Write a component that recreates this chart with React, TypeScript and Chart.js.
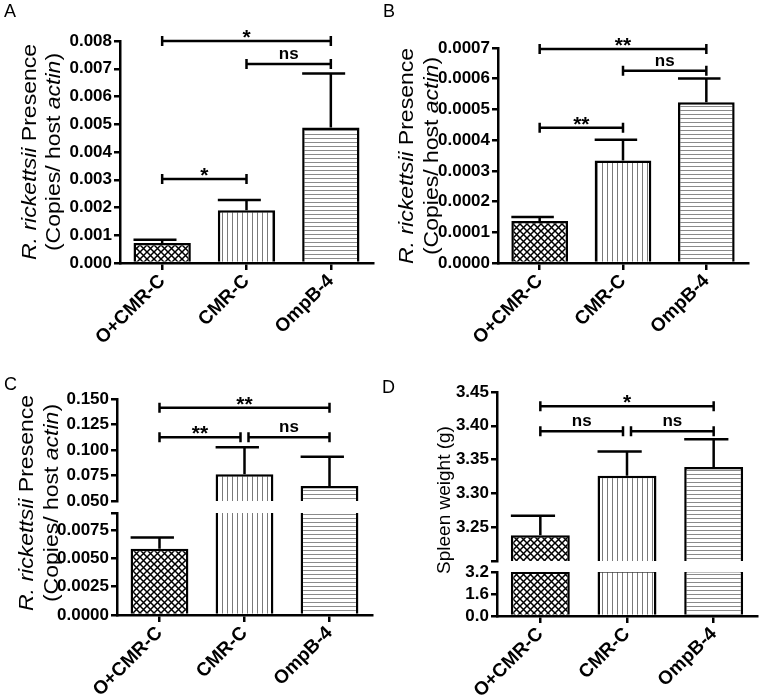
import React, { useEffect, useRef } from 'react';
import { Chart, registerables } from 'chart.js';

Chart.register(...registerables);
Chart.defaults.font.family = '"Liberation Sans", Arial, Helvetica, sans-serif';
Chart.defaults.color = '#000';

// ---------- data ----------
const categories = ['O+CMR-C', 'CMR-C', 'OmpB-4'];

// Panel A
const valuesA = [0.00072, 0.0019, 0.00488];
const errorsA = [0.00012, 0.00037, 0.00195];
const ticksA = [0, 0.001, 0.002, 0.003, 0.004, 0.005, 0.006, 0.007, 0.008];
const sigFromA = [0, 1, 0];
const sigToA = [2, 2, 1];
const sigLevelA = [0.008, 0.00717, 0.00303];
const sigLabelA = ['*', 'ns', '*'];

// Panel B
const valuesB = [0.000137, 0.000334, 0.000523];
const errorsB = [0.000013, 0.000067, 0.000078];
const ticksB = [0, 0.0001, 0.0002, 0.0003, 0.0004, 0.0005, 0.0006, 0.0007];
const sigFromB = [0, 1, 0];
const sigToB = [2, 2, 1];
const sigLevelB = [0.000697, 0.000626, 0.00044];
const sigLabelB = ['**', 'ns', '**'];

// Panel C (broken axis)
const valuesC = [0.00585, 0.0763, 0.0648];
const errorsC = [0.00098, 0.0264, 0.0286];
const ticksCLow = [0, 0.0025, 0.005, 0.0075];
const rangeCLow = [0, 0.009];
const ticksCHigh = [0.05, 0.075, 0.1, 0.125, 0.15];
const rangeCHigh = [0.05, 0.15];
const sigFromC = [0, 0, 1];
const sigToC = [2, 1, 2];
const sigLevelC = [0.1414, 0.1125, 0.1125];
const sigLabelC = ['**', '**', 'ns'];

// Panel D (broken axis)
const valuesD = [3.238, 3.326, 3.339];
const errorsD = [0.029, 0.036, 0.041];
const ticksDLow = [0, 1.6, 3.2];
const rangeDLow = [0, 3.2];
const ticksDHigh = [3.25, 3.3, 3.35, 3.4, 3.45];
const rangeDHigh = [3.2, 3.45];
const sigFromD = [0, 0, 1];
const sigToD = [2, 1, 2];
const sigLevelD = [3.429, 3.392, 3.392];
const sigLabelD = ['*', 'ns', 'ns'];

// ---------- helpers ----------
const FONT = '"Liberation Sans", Arial, Helvetica, sans-serif';
const BAR_PCT = 0.68;

type Seg = { text: string; italic: boolean };
type Sec = {
  values: number[];
  errors: number[];
  min: number;
  max: number;
  ticks: number[];
  decimals: number;
  padTop: number;
  padRight: number;
  padBottom: number;
  yWidth: number;
  xHeight: number | null;
  hideBelowMin?: boolean;
  sig?: { from: number[]; to: number[]; level: number[]; label: string[]; gap: number };
  title?: { lines: Seg[][]; xs: number[]; cy: number; size: number; stretch: number };
  letter?: { text: string; x: number; y: number };
};

function makePattern(ctx: CanvasRenderingContext2D, kind: string) {
  const c = document.createElement('canvas');
  const s = kind === 'cross' ? 7 : kind === 'vert' ? 5 : 4;
  c.width = s;
  c.height = s;
  const g = c.getContext('2d')!;
  g.fillStyle = '#fff';
  g.fillRect(0, 0, s, s);
  if (kind === 'cross') {
    g.strokeStyle = '#000';
    g.lineWidth = 1.5;
    g.beginPath();
    g.moveTo(-1, -1);
    g.lineTo(s + 1, s + 1);
    g.moveTo(s + 1, -1);
    g.lineTo(-1, s + 1);
    g.stroke();
  } else if (kind === 'vert') {
    g.fillStyle = '#7a7a7a';
    g.fillRect(2, 0, 1, s);
  } else {
    g.fillStyle = '#8a8a8a';
    g.fillRect(0, 2, s, 1);
  }
  return ctx.createPattern(c, 'repeat')!;
}

function drawRich(ctx: CanvasRenderingContext2D, segs: Seg[], x: number, y: number, size: number, stretch: number) {
  ctx.save();
  ctx.translate(x, y);
  ctx.rotate(-Math.PI / 2);
  ctx.scale(stretch, 1);
  ctx.fillStyle = '#000';
  ctx.textBaseline = 'middle';
  ctx.textAlign = 'left';
  const fonts = segs.map((s) => `${s.italic ? 'italic ' : ''}${size}px ${FONT}`);
  const widths = segs.map((s, i) => {
    ctx.font = fonts[i];
    return ctx.measureText(s.text).width;
  });
  let cx = -widths.reduce((a, b) => a + b, 0) / 2;
  segs.forEach((s, i) => {
    ctx.font = fonts[i];
    ctx.fillText(s.text, cx, 0);
    cx += widths[i];
  });
  ctx.restore();
}

function build(canvas: HTMLCanvasElement, s: Sec) {
  const ctx = canvas.getContext('2d')!;
  const pats = [makePattern(ctx, 'cross'), makePattern(ctx, 'vert'), makePattern(ctx, 'horiz')];
  const data = s.values.map((v) => (s.hideBelowMin && v < s.min ? null : v));
  const allTicks = Array.from(new Set([s.min, ...s.ticks, s.max])).sort((a, b) => a - b);
  const labelled = (v: number) => s.ticks.some((t) => Math.abs(t - v) < 1e-9);

  const extras = {
    id: 'extras',
    afterDatasetsDraw(chart: any) {
      const c = chart.ctx as CanvasRenderingContext2D;
      const xs = chart.scales.x;
      const ys = chart.scales.y;
      const catW = xs.getPixelForValue(1) - xs.getPixelForValue(0);
      const hw = (catW * BAR_PCT) / 2;
      c.save();
      c.strokeStyle = '#000';
      c.fillStyle = '#000';
      c.lineWidth = 2.5;
      c.lineCap = 'butt';
      // error bars
      s.values.forEach((v, i) => {
        const top = v + s.errors[i];
        if (v < s.min || top > s.max + 1e-12) return;
        const x = xs.getPixelForValue(i);
        const y0 = ys.getPixelForValue(v);
        const y1 = ys.getPixelForValue(top);
        c.beginPath();
        c.moveTo(x, y0);
        c.lineTo(x, y1);
        c.moveTo(x - hw, y1);
        c.lineTo(x + hw * 0.5, y1);
        c.stroke();
      });
      // significance brackets
      if (s.sig) {
        const sg = s.sig;
        sg.from.forEach((f, k) => {
          const t = sg.to[k];
          const lvl = sg.level[k];
          let x1 = xs.getPixelForValue(f);
          let x2 = xs.getPixelForValue(t);
          sg.from.forEach((f2, j) => {
            if (j === k || Math.abs(sg.level[j] - lvl) > 1e-12) return;
            if (sg.to[j] === f) x1 += sg.gap;
            if (f2 === t) x2 -= sg.gap;
          });
          const y = ys.getPixelForValue(lvl);
          c.beginPath();
          c.moveTo(x1, y);
          c.lineTo(x2, y);
          c.moveTo(x1, y - 5);
          c.lineTo(x1, y + 5);
          c.moveTo(x2, y - 5);
          c.lineTo(x2, y + 5);
          c.stroke();
          const lab = sg.label[k];
          const star = lab.includes('*');
          c.font = `bold ${star ? 21 : 17}px ${FONT}`;
          c.textAlign = 'center';
          c.textBaseline = 'alphabetic';
          c.fillText(lab, (x1 + x2) / 2, star ? y + 3 : y - 5);
        });
      }
      c.restore();
    },
    afterDraw(chart: any) {
      const c = chart.ctx as CanvasRenderingContext2D;
      if (s.title) {
        const t = s.title;
        t.lines.forEach((ln, i) => drawRich(c, ln, t.xs[i], t.cy, t.size, t.stretch));
      }
      if (s.letter) {
        c.save();
        c.font = `18px ${FONT}`;
        c.fillStyle = '#000';
        c.textAlign = 'left';
        c.textBaseline = 'alphabetic';
        c.fillText(s.letter.text, s.letter.x, s.letter.y);
        c.restore();
      }
    },
  };

  return new Chart(canvas, {
    type: 'bar',
    data: {
      labels: categories,
      datasets: [
        {
          data,
          backgroundColor: pats as any,
          borderColor: '#000',
          borderWidth: 2.5,
          barPercentage: BAR_PCT,
          categoryPercentage: 1,
          clip: 0,
        } as any,
      ],
    },
    options: {
      animation: false,
      responsive: false,
      devicePixelRatio: 1,
      events: [],
      layout: {
        padding: { left: 0, top: s.padTop, right: s.padRight, bottom: s.xHeight == null ? s.padBottom : 0 },
      },
      plugins: { legend: { display: false }, tooltip: { enabled: false }, title: { display: false } },
      scales: {
        x: {
          display: s.xHeight != null,
          offset: true,
          grid: {
            display: true,
            drawOnChartArea: false,
            drawTicks: true,
            tickLength: 7,
            offset: false,
            color: '#000',
            lineWidth: 2.5,
          },
          border: { display: true, color: '#000', width: 2.5 },
          ticks: {
            minRotation: 45,
            maxRotation: 45,
            autoSkip: false,
            padding: 0,
            color: '#000',
            font: { size: 19, weight: 'bold' },
          },
          afterFit: (sc: any) => {
            if (s.xHeight != null) sc.height = s.xHeight;
          },
        },
        y: {
          min: s.min,
          max: s.max,
          grid: { drawOnChartArea: false, drawTicks: true, tickLength: 6, color: '#000', lineWidth: 2.5 },
          border: { display: true, color: '#000', width: 2.5 },
          ticks: {
            autoSkip: false,
            padding: 2,
            color: '#000',
            font: { size: 17, weight: 'bold' },
            callback: (v: any) => (labelled(+v) ? (+v).toFixed(s.decimals) : ''),
          },
          afterBuildTicks: (sc: any) => {
            sc.ticks = allTicks.map((v) => ({ value: v }));
          },
          afterFit: (sc: any) => {
            sc.width = s.yWidth;
          },
        },
      },
    } as any,
    plugins: [extras as any],
  });
}

const rickTitle: Seg[][] = [
  [
    { text: 'R. rickettsii', italic: true },
    { text: ' Presence', italic: false },
  ],
  [
    { text: '(Copies/ host ', italic: false },
    { text: 'actin', italic: true },
    { text: ')', italic: false },
  ],
];
const spleenTitle: Seg[][] = [[{ text: 'Spleen weight (g)', italic: false }]];

const frames = [
  { x: 0, y: 0, w: 380, h: 360 },
  { x: 380, y: 0, w: 380, h: 360 },
  { x: 0, y: 340, w: 380, h: 358 },
  { x: 0, y: 340, w: 380, h: 180 },
  { x: 380, y: 340, w: 380, h: 358 },
  { x: 380, y: 340, w: 380, h: 240 },
];

const sections: Sec[] = [
  {
    values: valuesA, errors: errorsA, min: ticksA[0], max: ticksA[ticksA.length - 1], ticks: ticksA, decimals: 3,
    padTop: 41, padRight: 7, padBottom: 0, yWidth: 120, xHeight: 97,
    sig: { from: sigFromA, to: sigToA, level: sigLevelA, label: sigLabelA, gap: 4 },
    title: { lines: rickTitle, xs: [30, 54], cy: 152, size: 20, stretch: 1.15 },
    letter: { text: 'A', x: 4, y: 17 },
  },
  {
    values: valuesB, errors: errorsB, min: ticksB[0], max: ticksB[ticksB.length - 1], ticks: ticksB, decimals: 4,
    padTop: 48, padRight: 12, padBottom: 0, yWidth: 118, xHeight: 97,
    sig: { from: sigFromB, to: sigToB, level: sigLevelB, label: sigLabelB, gap: 4 },
    title: { lines: rickTitle, xs: [27, 52], cy: 156, size: 20, stretch: 1.15 },
    letter: { text: 'B', x: 3, y: 17 },
  },
  {
    values: valuesC, errors: errorsC, min: rangeCLow[0], max: rangeCLow[1], ticks: ticksCLow, decimals: 4,
    padTop: 173, padRight: 8, padBottom: 0, yWidth: 117, xHeight: 83,
    title: { lines: rickTitle, xs: [27, 52], cy: 163, size: 20, stretch: 1.15 },
    letter: { text: 'C', x: 4, y: 50 },
  },
  {
    values: valuesC, errors: errorsC, min: rangeCHigh[0], max: rangeCHigh[1], ticks: ticksCHigh, decimals: 3,
    padTop: 59, padRight: 8, padBottom: 19, yWidth: 117, xHeight: null, hideBelowMin: true,
    sig: { from: sigFromC, to: sigToC, level: sigLevelC, label: sigLabelC, gap: 4 },
  },
  {
    values: valuesD, errors: errorsD, min: rangeDLow[0], max: rangeDLow[1], ticks: ticksDLow, decimals: 1,
    padTop: 232, padRight: 3, padBottom: 0, yWidth: 117, xHeight: 82,
    title: { lines: spleenTitle, xs: [65], cy: 160, size: 19, stretch: 1 },
    letter: { text: 'D', x: 2, y: 53 },
  },
  {
    values: valuesD, errors: errorsD, min: rangeDHigh[0], max: rangeDHigh[1], ticks: ticksDHigh, decimals: 2,
    padTop: 52, padRight: 3, padBottom: 19, yWidth: 117, xHeight: null, hideBelowMin: true,
    sig: { from: sigFromD, to: sigToD, level: sigLevelD, label: sigLabelD, gap: 4 },
  },
];

export default function App() {
  const r0 = useRef<HTMLCanvasElement>(null);
  const r1 = useRef<HTMLCanvasElement>(null);
  const r2 = useRef<HTMLCanvasElement>(null);
  const r3 = useRef<HTMLCanvasElement>(null);
  const r4 = useRef<HTMLCanvasElement>(null);
  const r5 = useRef<HTMLCanvasElement>(null);
  const refs = [r0, r1, r2, r3, r4, r5];

  useEffect(() => {
    const charts = sections.map((s, i) => build(refs[i].current!, s));
    return () => charts.forEach((c) => c.destroy());
  }, []);

  return (
    <div style={{ position: 'absolute', left: 0, top: 0, width: 760, height: 698, background: '#fff', overflow: 'hidden' }}>
      {frames.map((f, i) => (
        <canvas
          key={i}
          ref={refs[i]}
          width={f.w}
          height={f.h}
          style={{ position: 'absolute', left: f.x, top: f.y, width: f.w, height: f.h }}
        />
      ))}
    </div>
  );
}
